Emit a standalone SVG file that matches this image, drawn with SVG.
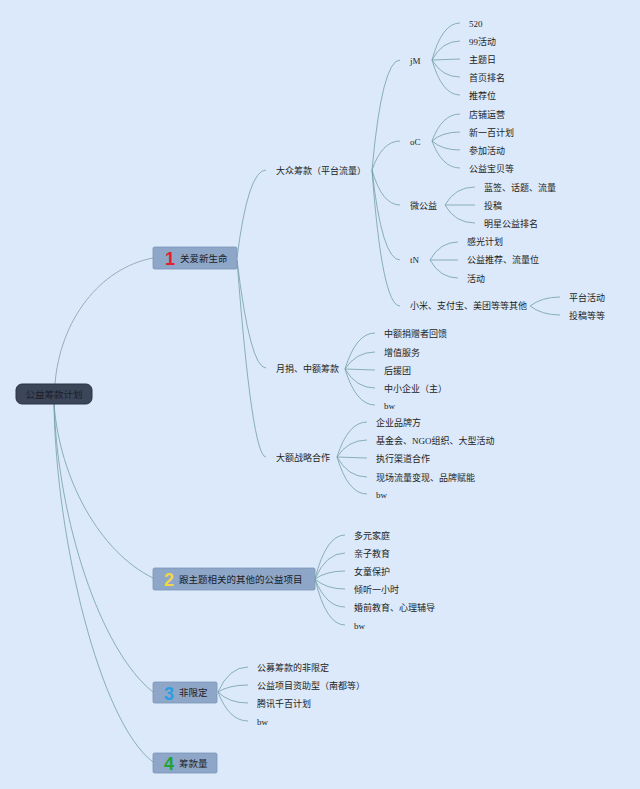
<svg xmlns="http://www.w3.org/2000/svg" width="640" height="789" viewBox="0 0 640 789">
<style>
.bg{fill:#dbe9fa}
.ln{fill:none;stroke:#74a0a6;stroke-width:0.8}
.lg{fill:none;stroke:#8a9ca6;stroke-width:0.8}
.leaf{font-family:"Liberation Serif","Noto Sans CJK SC",serif;font-size:9px;fill:#1e1e24}
.mid{font-family:"Noto Sans CJK SC",sans-serif;font-size:9px;fill:#1e1e24}
.box{fill:#8ea7c8;stroke:#7b95b8;stroke-width:0.8}
.root{fill:#3c4659;stroke:#2a3242;stroke-width:1}
.lbl{font-family:"Noto Sans CJK SC",sans-serif;font-size:9.5px;fill:#1a1d2a}
.num{font-family:"Liberation Sans",sans-serif;font-size:18px;font-weight:bold}
</style>
<rect class="bg" x="0" y="0" width="640" height="789"/>
<g id="connectors">
<!-- root -->
<path class="lg" d="M55 384 C60 320 100 268 153 258"/>
<path class="ln" d="M54 404 C60 480 100 552 153 578"/>
<path class="ln" d="M54 404 C58 520 100 650 153 692"/>
<path class="ln" d="M54 404 C56 540 100 722 153 762"/>
<!-- node1 -->
<path class="ln" d="M237 258 Q248 170 266 170"/>
<path class="ln" d="M237 260 Q250 368 266 368"/>
<path class="ln" d="M237 260 Q252 457 266 457"/>
<!-- 大众 -->
<path class="ln" d="M372 170 Q382 60 400 60"/>
<path class="ln" d="M372 170 Q382 141 400 141"/>
<path class="ln" d="M372 170 Q382 205 400 205"/>
<path class="ln" d="M372 170 Q382 260 400 260"/>
<path class="ln" d="M372 170 Q382 306 400 306"/>
<!-- jM -->
<path class="ln" d="M432 60 Q442 23 460 23"/>
<path class="ln" d="M432 60 Q442 41 460 41"/>
<path class="ln" d="M432 60 L460 59"/>
<path class="ln" d="M432 60 Q442 77 460 77"/>
<path class="ln" d="M432 60 Q442 95 460 95"/>
<!-- oC -->
<path class="ln" d="M432 141 Q442 114 460 114"/>
<path class="ln" d="M432 141 Q442 132 460 132"/>
<path class="ln" d="M432 141 Q442 150 460 150"/>
<path class="ln" d="M432 141 Q442 168 460 168"/>
<!-- 微公益 -->
<path class="ln" d="M445 205 Q455 187 475 187"/>
<path class="ln" d="M445 205 L475 205"/>
<path class="ln" d="M445 205 Q455 223 475 223"/>
<!-- tN -->
<path class="ln" d="M430 260 Q440 242 458 242"/>
<path class="ln" d="M430 260 L458 260"/>
<path class="ln" d="M430 260 Q440 278 458 278"/>
<!-- 小米 -->
<path class="ln" d="M530 306 Q542 297 560 297"/>
<path class="ln" d="M530 306 Q542 315 560 315"/>
<!-- 月捐 -->
<path class="ln" d="M345 369 Q356 333 375 333"/>
<path class="ln" d="M345 369 Q356 352 375 352"/>
<path class="ln" d="M345 369 L375 370"/>
<path class="ln" d="M345 369 Q356 388 375 388"/>
<path class="ln" d="M345 369 Q356 405 375 405"/>
<!-- 大额 -->
<path class="ln" d="M337 457 Q348 422 367 422"/>
<path class="ln" d="M337 457 Q348 440 367 440"/>
<path class="ln" d="M337 457 L367 458"/>
<path class="ln" d="M337 457 Q348 477 367 477"/>
<path class="ln" d="M337 457 Q348 494 367 494"/>
<!-- node2 -->
<path class="ln" d="M315 579 Q326 535 345 535"/>
<path class="ln" d="M315 579 Q326 553 345 553"/>
<path class="ln" d="M315 579 Q326 571 345 571"/>
<path class="ln" d="M315 579 Q326 589 345 589"/>
<path class="ln" d="M315 579 Q326 607 345 607"/>
<path class="ln" d="M315 579 Q326 625 345 625"/>
<!-- node3 -->
<path class="ln" d="M218 692 Q229 667 248 667"/>
<path class="ln" d="M218 692 Q229 685 248 685"/>
<path class="ln" d="M218 692 Q229 703 248 703"/>
<path class="ln" d="M218 692 Q229 721 248 721"/>
</g>
<g id="root">
<rect class="root" x="16" y="384" width="76" height="20" rx="6"/>
<text class="lbl" x="54" y="397.5" text-anchor="middle" fill="#111">公益筹款计划</text>
</g>
<g id="node1">
<rect class="box" x="153" y="247" width="84" height="22" rx="1.5"/>
<text class="num" x="170" y="265" text-anchor="middle" fill="#e3202b">1</text>
<text class="lbl" x="180" y="261.5">关爱新生命</text>
</g>
<g id="node2">
<rect class="box" x="153" y="568" width="162" height="22" rx="1.5"/>
<text class="num" x="169" y="586" text-anchor="middle" fill="#f3d54c">2</text>
<text class="lbl" x="179" y="582.5">跟主题相关的其他的公益项目</text>
</g>
<g id="node3">
<rect class="box" x="153" y="682" width="64" height="21" rx="1.5"/>
<text class="num" x="169" y="699.5" text-anchor="middle" fill="#2b9ee2">3</text>
<text class="lbl" x="179" y="696">非限定</text>
</g>
<g id="node4">
<rect class="box" x="153" y="753" width="64" height="20" rx="1.5"/>
<text class="num" x="169" y="770" text-anchor="middle" fill="#22a332">4</text>
<text class="lbl" x="179" y="766.5">筹款量</text>
</g>
<g id="level2">
<text class="mid" x="276" y="173.5">大众筹款（平台流量）</text>
<text class="mid" x="276" y="372">月捐、中额筹款</text>
<text class="mid" x="276" y="460.5">大额战略合作</text>
</g>
<g id="level3">
<text class="leaf" x="410" y="63.5">jM</text>
<text class="leaf" x="410" y="144.5">oC</text>
<text class="leaf" x="410" y="208.5">微公益</text>
<text class="leaf" x="410" y="263">tN</text>
<text class="leaf" x="410" y="309">小米、支付宝、美团等等其他</text>
</g>
<g id="leaves">
<text class="leaf" x="469" y="26.5">520</text>
<text class="leaf" x="469" y="44.5">99活动</text>
<text class="leaf" x="469" y="62.5">主题日</text>
<text class="leaf" x="469" y="80.5">首页排名</text>
<text class="leaf" x="469" y="98.5">推荐位</text>
<text class="leaf" x="469" y="117.5">店铺运营</text>
<text class="leaf" x="469" y="135.5">新一百计划</text>
<text class="leaf" x="469" y="153.5">参加活动</text>
<text class="leaf" x="469" y="171.5">公益宝贝等</text>
<text class="leaf" x="484" y="190.5">蓝签、话题、流量</text>
<text class="leaf" x="484" y="208.5">投稿</text>
<text class="leaf" x="484" y="226.5">明星公益排名</text>
<text class="leaf" x="467" y="245">感光计划</text>
<text class="leaf" x="467" y="263">公益推荐、流量位</text>
<text class="leaf" x="467" y="281.5">活动</text>
<text class="leaf" x="569" y="300.5">平台活动</text>
<text class="leaf" x="569" y="318.5">投稿等等</text>
<text class="leaf" x="384" y="336.5">中额捐赠者回馈</text>
<text class="leaf" x="384" y="355.5">增值服务</text>
<text class="leaf" x="384" y="373.5">后援团</text>
<text class="leaf" x="384" y="391.5">中小企业（主）</text>
<text class="leaf" x="384" y="408.5">bw</text>
<text class="leaf" x="376" y="425.5">企业品牌方</text>
<text class="leaf" x="376" y="443.5">基金会、NGO组织、大型活动</text>
<text class="leaf" x="376" y="461.5">执行渠道合作</text>
<text class="leaf" x="376" y="480.5">现场流量变现、品牌赋能</text>
<text class="leaf" x="376" y="497.5">bw</text>
<text class="leaf" x="354" y="538.5">多元家庭</text>
<text class="leaf" x="354" y="556.5">亲子教育</text>
<text class="leaf" x="354" y="574.5">女童保护</text>
<text class="leaf" x="354" y="592.5">倾听一小时</text>
<text class="leaf" x="354" y="610.5">婚前教育、心理辅导</text>
<text class="leaf" x="354" y="628.5">bw</text>
<text class="leaf" x="257" y="670.5">公募筹款的非限定</text>
<text class="leaf" x="257" y="688.5">公益项目资助型（南都等）</text>
<text class="leaf" x="257" y="706.5">腾讯千百计划</text>
<text class="leaf" x="257" y="724.5">bw</text>
</g>
</svg>
